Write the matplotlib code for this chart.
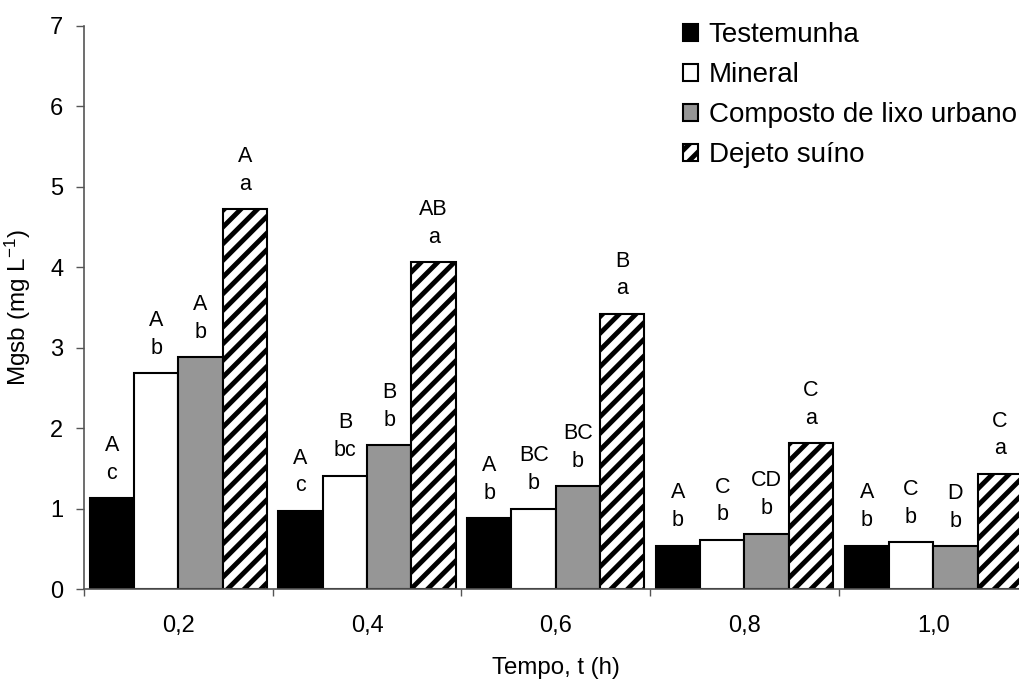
import matplotlib
matplotlib.use("Agg")
import matplotlib.pyplot as plt
import numpy as np

plt.rcParams['font.family'] = ['Liberation Sans', 'DejaVu Sans']
plt.rcParams['mathtext.default'] = 'regular'
plt.rcParams['hatch.linewidth'] = 3.5

tempos = ['0,2', '0,4', '0,6', '0,8', '1,0']
tratamentos = ['Testemunha', 'Mineral', 'Composto de lixo urbano', 'Dejeto suíno']

testemunha = [1.13, 0.97, 0.88, 0.54, 0.54]
mineral = [2.68, 1.41, 1.00, 0.61, 0.58]
composto = [2.88, 1.79, 1.28, 0.69, 0.53]
dejeto = [4.72, 4.06, 3.42, 1.81, 1.43]

# letras do teste de medias (maiuscula: entre tempos, minuscula: entre tratamentos)
letras_testemunha = [('A', 'c'), ('A', 'c'), ('A', 'b'), ('A', 'b'), ('A', 'b')]
letras_mineral = [('A', 'b'), ('B', 'bc'), ('BC', 'b'), ('C', 'b'), ('C', 'b')]
letras_composto = [('A', 'b'), ('B', 'b'), ('BC', 'b'), ('CD', 'b'), ('D', 'b')]
letras_dejeto = [('A', 'a'), ('AB', 'a'), ('B', 'a'), ('C', 'a'), ('C', 'a')]

series = [testemunha, mineral, composto, dejeto]
letras = [letras_testemunha, letras_mineral, letras_composto, letras_dejeto]
cores = ['black', 'white', '#969696', 'white']
hachuras = [None, None, None, '//']

fig = plt.figure(figsize=(10.2, 6.8), dpi=100)
ax = fig.add_axes([0.0824, 0.1338, 0.925, 0.828])

x = np.arange(len(tempos))
w = 0.235
for k in range(4):
    pos = x + (k - 1.5) * w
    ax.bar(pos, series[k], width=w, color=cores[k], edgecolor='black',
           linewidth=1.5, hatch=hachuras[k], label=tratamentos[k], zorder=2)
    for xi, yi, (mai, mins) in zip(pos, series[k], letras[k]):
        ax.annotate(mins, (xi, yi), xytext=(0, 18), textcoords='offset points',
                    ha='center', va='center', fontsize=15.5)
        ax.annotate(mai, (xi, yi), xytext=(0, 38), textcoords='offset points',
                    ha='center', va='center', fontsize=15.5)

ax.set_xlim(-0.5, 4.5)
ax.set_ylim(0, 7)
ax.set_yticks(range(8))
ax.set_xticks(x)
ax.set_xticklabels(tempos)
ax.set_xticks(np.arange(-0.5, 5.0, 1.0), minor=True)
ax.tick_params(axis='x', which='major', length=0, pad=19, labelsize=17)
ax.tick_params(axis='x', which='minor', length=5, width=1, color='#555555')
ax.tick_params(axis='y', length=6, width=1, color='#555555', labelsize=17, pad=9)

for s in ['top', 'right']:
    ax.spines[s].set_visible(False)
for s in ['left', 'bottom']:
    ax.spines[s].set_color('#555555')
    ax.spines[s].set_linewidth(1.2)

ax.set_xlabel('Tempo, t (h)', fontsize=17.3, labelpad=14)
ax.set_ylabel('Mgsb (mg L$^{-1}$)', fontsize=17.5, labelpad=12)

ax.legend(loc='upper left', bbox_to_anchor=(0.623, 1.026), frameon=False,
          fontsize=20, handlelength=0.55, handleheight=0.55, handletextpad=0.38,
          labelspacing=0.5, borderaxespad=0)

fig.savefig('out.png', dpi=100)
